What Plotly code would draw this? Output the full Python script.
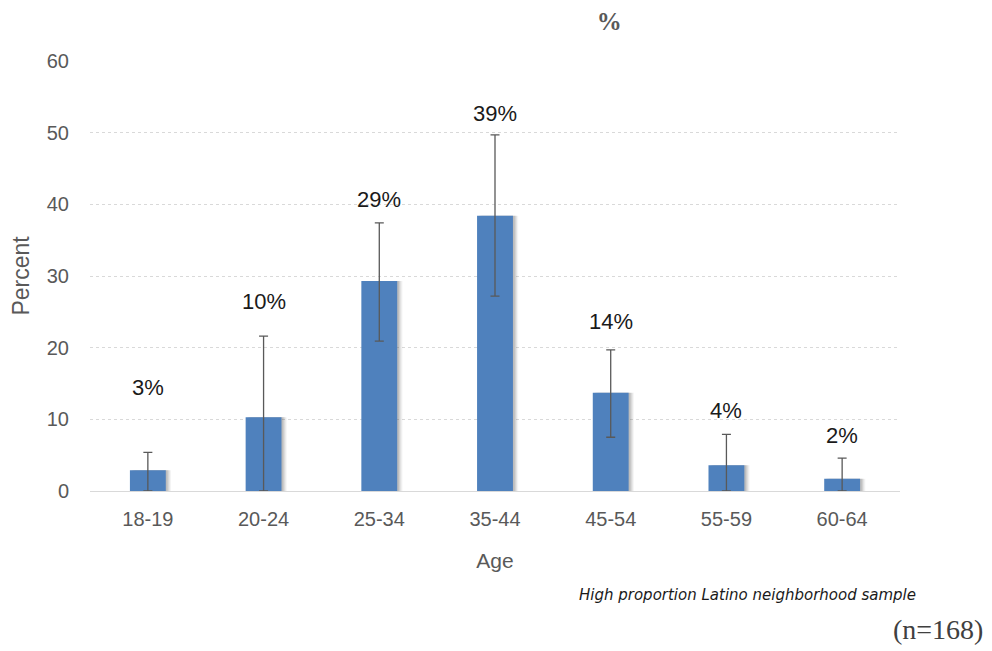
import plotly.graph_objects as go

categories = ["18-19", "20-24", "25-34", "35-44", "45-54", "55-59", "60-64"]
values = [2.9, 10.3, 29.3, 38.4, 13.7, 3.6, 1.7]
ci_high = [5.4, 21.6, 37.4, 49.7, 19.7, 7.9, 4.6]
ci_low = [0.0, 0.0, 20.9, 27.2, 7.5, 0.0, 0.0]
labels = ["3%", "10%", "29%", "39%", "14%", "4%", "2%"]
label_y = [14.4, 26.4, 40.7, 52.7, 23.7, 11.3, 7.8]

plus = [h - v for h, v in zip(ci_high, values)]
minus = [v - l for v, l in zip(values, ci_low)]

FONT = "Liberation Sans, Arial"

fig = go.Figure()
# soft shadow
for off, alpha in [(0.045, 0.06), (0.035, 0.09), (0.025, 0.12), (0.015, 0.14)]:
    fig.add_trace(go.Bar(
        x=categories, y=values, width=0.31, offset=-0.155 + off,
        marker=dict(color=f"rgba(70,70,70,{alpha})", line=dict(width=0)),
        hoverinfo="skip", showlegend=False,
    ))
fig.add_trace(go.Bar(
    x=categories, y=values, width=0.31, offset=-0.155,
    marker=dict(color="#4F81BD", line=dict(width=0)),
    error_y=dict(type="data", symmetric=False, array=plus, arrayminus=minus,
                 color="#595959", thickness=1.3, width=4.5),
    showlegend=False,
))

for c, t, ly in zip(categories, labels, label_y):
    fig.add_annotation(x=c, y=ly, text=t, showarrow=False,
                       font=dict(family=FONT, size=22, color="#1a1a1a"),
                       xanchor="center", yanchor="middle")

fig.update_layout(
    width=984, height=643,
    margin=dict(l=82, r=92, t=53, b=160),
    paper_bgcolor="white", plot_bgcolor="white",
    barmode="overlay",
    title=dict(text="<b>%</b>", x=0.611, xanchor="center", y=0.98, yanchor="middle",
               font=dict(family="Liberation Serif, DejaVu Serif", size=25, color="#595959")),
    font=dict(family=FONT, color="#595959"),
)
fig.update_yaxes(range=[0, 60], dtick=10, showgrid=True, gridcolor="#d9d9d9",
                 griddash="dot", gridwidth=1, zeroline=False, automargin=False,
                 tickfont=dict(size=20, color="#595959"),
                 ticklabelstandoff=20,
                 title=dict(text="Percent", font=dict(size=23, color="#595959"), standoff=14),
                 ticks="", showline=False)
fig.update_xaxes(showline=True, linecolor="#d9d9d9", linewidth=1, automargin=False,
                 tickfont=dict(size=20, color="#595959"), ticks="",
                 ticklabelstandoff=10,
                 title=dict(text="Age", font=dict(size=21, color="#595959"), standoff=24))

fig.add_annotation(xref="paper", yref="paper", x=1.022, y=-0.242, showarrow=False,
                   text="<i>High proportion Latino neighborhood sample</i>",
                   xanchor="right", yanchor="middle",
                   font=dict(family="DejaVu Sans", size=15, color="#1a1a1a"))
fig.add_annotation(xref="paper", yref="paper", x=1.105, y=-0.323, showarrow=False,
                   text="(n=168)", xanchor="right", yanchor="middle",
                   font=dict(family="Liberation Serif, DejaVu Serif", size=28, color="#404040"))

fig.write_html("out.html")
